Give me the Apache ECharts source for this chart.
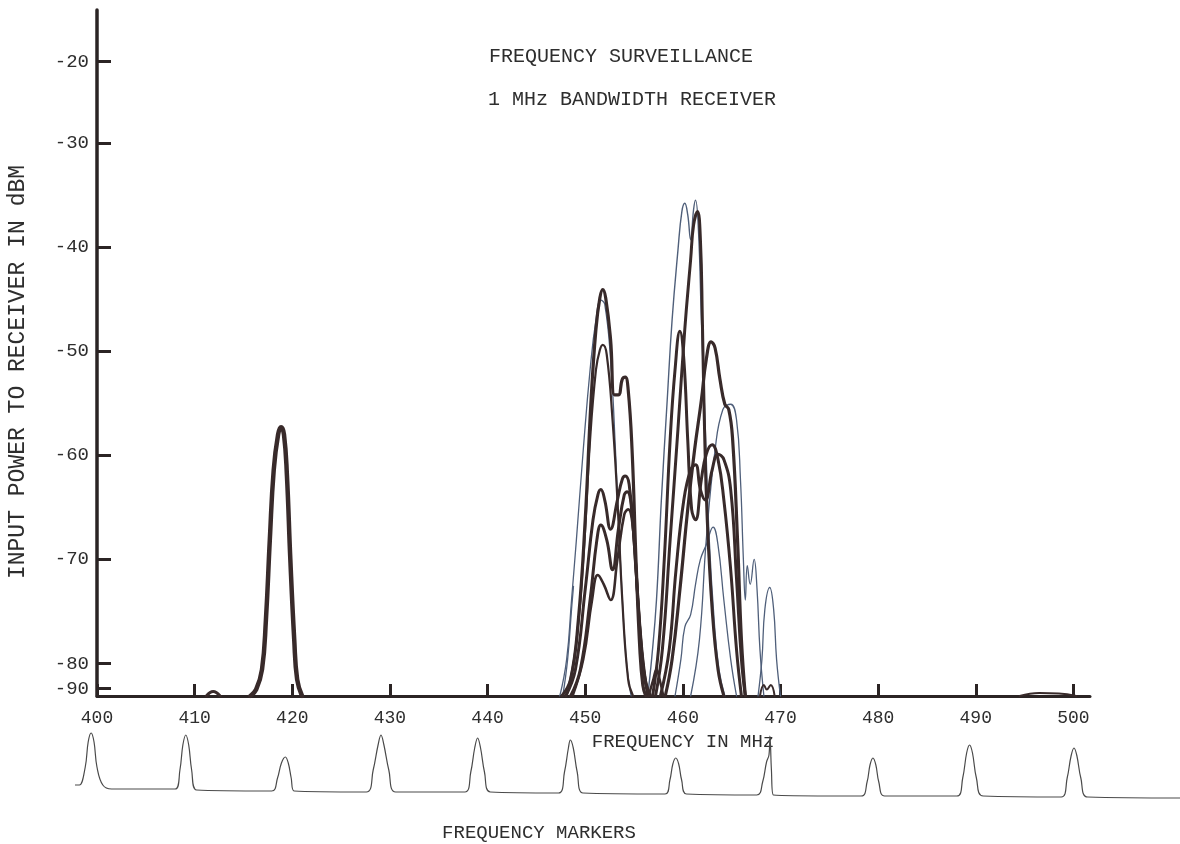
<!DOCTYPE html>
<html>
<head>
<meta charset="utf-8">
<script src="https://cdn.jsdelivr.net/npm/echarts@6/dist/echarts.min.js"></script>
<style>html,body{margin:0;padding:0;background:#fff}#c{width:1180px;height:844px}</style>
</head>
<body>
<div id="c"></div>
<script>
// ---- data (frequency MHz, power dBm) ----
const xTickValues = [400, 410, 420, 430, 440, 450, 460, 470, 480, 490, 500];
const yTickValues = [-20, -30, -40, -50, -60, -70, -80, -90];
const FLOOR = -93;

const peak420 = [[415.7,-93],[416.3,-90.4],[416.9,-82.4],[417.3,-75.8],[417.7,-68.1],[418.1,-61.4],[418.55,-58.0],[418.85,-57.3],[419.15,-58.0],[419.45,-61.9],[419.8,-70.0],[420.2,-77.7],[420.5,-86.4],[421.0,-93]];
const bump412 = [[411.2,-93],[411.9,-91.2],[412.6,-93]];
const bump497 = [[494.5,-93],[496.5,-91.8],[498.5,-92.0],[500.3,-93]];

const trA = [[447.6,-93],[448.5,-86.4],[449.3,-75.8],[450.0,-66.2],[450.6,-54.7],[451.1,-47.9],[451.5,-44.9],[451.8,-44.1],[452.1,-44.9],[452.6,-48.9],[453.0,-54.2],[453.4,-54.2],[453.8,-52.7],[454.1,-52.5],[454.4,-53.7],[454.8,-59.5],[455.2,-70.0],[455.6,-78.7],[455.9,-88.6],[456.2,-93]];
const trB = [[448.1,-93],[449.0,-78.7],[449.8,-70.0],[450.5,-58.5],[451.1,-51.8],[451.5,-49.9],[451.8,-49.4],[452.2,-50.3],[452.8,-56.6],[453.3,-64.3],[453.8,-73.9],[454.4,-86.4],[454.9,-93]];
const trC = [[447.4,-93],[448.1,-79.6],[448.6,-73.9],[449.1,-68.1],[449.8,-59.5],[450.5,-51.8],[451.1,-47.0],[451.6,-45.1],[452.0,-45.5],[452.6,-50.8],[453.1,-59.5],[453.6,-70.0],[454.2,-79.6],[454.7,-93]];
const trC2 = [[447.7,-93],[448.2,-79.6],[448.6,-74.8],[448.8,-72.6]];
const trD = [[448.0,-93],[449.0,-82.4],[450.0,-72.9],[450.8,-66.2],[451.3,-63.8],[451.6,-63.3],[452.0,-64.3],[452.6,-67.1],[453.3,-64.3],[453.8,-62.3],[454.1,-62.0],[454.5,-62.8],[455.0,-68.1],[455.6,-76.7],[456.1,-86.4],[456.7,-93]];
const trE = [[448.5,-93],[449.5,-82.4],[450.5,-73.9],[451.2,-68.1],[451.6,-66.7],[452.2,-68.1],[452.8,-71.0],[453.4,-67.1],[454.0,-63.8],[454.3,-63.5],[454.7,-64.7],[455.2,-71.0],[455.8,-78.7],[456.4,-93]];
const trF = [[448.7,-93],[449.8,-79.6],[450.7,-73.9],[451.3,-71.5],[451.9,-72.4],[452.6,-73.9],[453.3,-70.0],[454.0,-65.7],[454.4,-65.2],[454.9,-67.1],[455.4,-73.9],[456.0,-82.4],[456.6,-93]];

const trG = [[456.4,-93],[456.8,-79.6],[457.3,-73.9],[457.8,-64.3],[458.4,-54.7],[458.9,-47.0],[459.5,-40.3],[459.9,-36.6],[460.2,-35.8],[460.5,-36.9],[460.8,-39.3],[461.1,-36.4],[461.3,-35.5],[461.6,-38.4],[461.9,-47.0],[462.3,-57.5],[462.7,-68.1],[463.2,-75.8],[463.7,-82.4],[464.3,-93]];
const trH = [[457.2,-93],[457.9,-78.7],[458.7,-68.1],[459.5,-57.5],[460.2,-47.9],[460.8,-41.2],[461.1,-37.9],[461.5,-36.6],[461.8,-39.3],[462.0,-47.0],[462.2,-56.6],[462.5,-66.2],[463.0,-74.8],[463.6,-82.4],[464.2,-93]];
const trI = [[458.2,-93],[458.9,-79.6],[459.7,-72.9],[460.5,-65.2],[461.2,-59.5],[461.9,-54.7],[462.4,-50.8],[462.9,-49.1],[463.3,-49.7],[463.8,-52.7],[464.3,-55.1],[464.7,-55.6],[465.1,-58.5],[465.6,-68.1],[466.0,-77.7],[466.4,-93]];
const trJ = [[456.9,-93],[457.5,-78.7],[458.1,-70.0],[458.7,-58.5],[459.2,-51.8],[459.7,-48.1],[460.1,-50.8],[460.5,-58.5],[460.9,-65.2],[461.3,-66.2],[461.9,-62.3],[462.4,-59.9],[463.0,-59.0],[463.6,-60.4],[464.2,-64.3],[464.9,-71.0],[465.5,-78.7],[466.0,-93]];
const trK = [[457.7,-93],[458.6,-78.7],[459.3,-71.0],[460.1,-64.3],[460.8,-61.4],[461.3,-60.9],[461.8,-63.3],[462.3,-64.3],[463.0,-61.4],[463.6,-59.9],[464.2,-60.4],[464.9,-63.3],[465.5,-71.9],[466.0,-79.6],[466.4,-93]];
const trL = [[459.2,-93],[459.8,-79.6],[460.2,-76.5],[460.8,-75.3],[461.3,-72.4],[461.8,-70.0],[462.4,-68.6],[463.1,-66.9],[463.6,-68.6],[464.2,-73.9],[464.9,-79.6],[465.5,-93]];
const trM = [[460.8,-93],[461.7,-77.7],[462.4,-68.1],[463.3,-59.5],[464.1,-55.6],[464.9,-55.1],[465.5,-56.6],[465.9,-62.3],[466.2,-70.0],[466.4,-73.9],[466.6,-70.6],[466.9,-72.4],[467.3,-70.0],[467.6,-72.9],[467.9,-78.7],[468.3,-93]];
const trN = [[467.7,-93],[468.1,-79.6],[468.4,-74.8],[468.9,-72.7],[469.3,-74.8],[469.6,-79.6],[470.0,-93]];
const trO = [[467.9,-93],[468.3,-88.6],[468.6,-90.4],[469.0,-88.6],[469.4,-93]];
const trP = [[456.5,-93],[457.0,-86.0],[457.3,-82.4],[457.6,-86.0],[458.0,-93]];

// frequency marker strip (MHz, relative level)
const markerTrace = [
[397.75,15],[398.2,15],[398.8,33],[399.1,58],[399.4,67],[399.7,58],[400.0,33],[400.6,15],[401.5,11],
[408.0,11],[408.5,30],[408.8,55],[409.1,65],[409.4,55],[409.7,30],[410.2,10],
[417.9,9],[418.5,22],[418.9,37],[419.3,43],[419.6,37],[419.9,22],[420.2,9],
[427.6,8],[428.3,30],[428.8,55],[429.1,65],[429.4,55],[429.9,30],[430.6,8],
[437.7,8],[438.3,28],[438.7,52],[439.0,62],[439.3,52],[439.7,28],[440.3,8],
[447.3,7],[447.9,28],[448.3,52],[448.5,60],[448.8,52],[449.2,28],[449.8,7],
[458.2,6],[458.7,20],[459.0,36],[459.3,42],[459.6,36],[459.9,20],[460.4,6],
[467.6,5],[468.2,18],[468.6,38],[468.85,45],[468.95,64],[469.1,30],[469.3,5],
[478.3,4],[478.9,18],[479.2,35],[479.5,42],[479.8,35],[480.1,18],[480.7,4],
[488.1,4],[488.7,22],[489.1,47],[489.4,55],[489.7,47],[490.1,22],[490.8,4],
[498.8,3],[499.4,22],[499.8,44],[500.1,52],[500.4,44],[500.8,22],[501.5,3],
[510.96,2]];

// ---- hand-drawn axis: compressed segments above -30 and below -80 dBm ----
const LO = -80, KLO = 0.24, HI = -30, KHI = 0.78;
const tr = v => v < LO ? LO + (v - LO) * KLO : (v > HI ? HI + (v - HI) * KHI : v);
const untr = d => d < LO ? LO + (d - LO) / KLO : (d > HI ? HI + (d - HI) / KHI : d);
const conv = arr => arr.map(p => [p[0], tr(p[1])]);

const DARK = '#382a2a', BLUE = '#4f5f7a', INK = '#2b2424', TXT = '#2e2e2e';
const FONT = '"Liberation Mono", "DejaVu Sans Mono", monospace';

const traces = [
  {d: trC, c: BLUE, w: 1.3}, {d: trC2, c: BLUE, w: 1.3},
  {d: trG, c: BLUE, w: 1.4}, {d: trL, c: BLUE, w: 1.3}, {d: trM, c: BLUE, w: 1.3}, {d: trN, c: BLUE, w: 1.3},
  {d: trB, c: DARK, w: 2.2}, {d: trF, c: DARK, w: 2.6}, {d: trE, c: DARK, w: 3}, {d: trD, c: DARK, w: 3},
  {d: trA, c: DARK, w: 3.2},
  {d: trK, c: DARK, w: 3}, {d: trJ, c: DARK, w: 3}, {d: trI, c: DARK, w: 3.2}, {d: trH, c: DARK, w: 3},
  {d: trO, c: DARK, w: 2}, {d: trP, c: DARK, w: 2.5},
  {d: peak420, c: DARK, w: 4.5}, {d: bump412, c: DARK, w: 3}, {d: bump497, c: DARK, w: 2}
];

const series = traces.map(t => ({
  type: 'line', xAxisIndex: 0, yAxisIndex: 0, data: conv(t.d),
  showSymbol: false, smooth: 0.45, clip: true,
  lineStyle: {color: t.c, width: t.w, cap: 'round', join: 'round'}, silent: true, z: 3
}));
series.push({
  type: 'line', xAxisIndex: 1, yAxisIndex: 1, data: markerTrace,
  showSymbol: false, smooth: 0.4,
  lineStyle: {color: '#4a4a4a', width: 1.2}, silent: true
});

const chart = echarts.init(document.getElementById('c'), null, {renderer: 'canvas'});
chart.setOption({
  animation: false,
  backgroundColor: '#ffffff',
  grid: [
    {left: 97, right: 90, top: 10, bottom: 148},
    {left: 75, right: 0, top: 725, height: 75}
  ],
  xAxis: [
    {type: 'value', gridIndex: 0, min: 400, max: 501.7,
     axisLine: {show: true, onZero: false, lineStyle: {color: INK, width: 3}},
     axisTick: {show: true, inside: true, length: 12, customValues: xTickValues, lineStyle: {color: INK, width: 3}},
     axisLabel: {customValues: xTickValues, margin: 13, fontFamily: FONT, fontSize: 18, color: TXT},
     splitLine: {show: false}},
    {type: 'value', gridIndex: 1, min: 397.75, max: 510.96, show: false}
  ],
  yAxis: [
    {type: 'value', gridIndex: 0, min: tr(FLOOR), max: -17.24,
     axisLine: {show: true, onZero: false, lineStyle: {color: INK, width: 3.5}},
     axisTick: {show: true, inside: true, length: 14, customValues: yTickValues.map(tr), lineStyle: {color: INK, width: 3}},
     axisLabel: {customValues: yTickValues.map(tr), margin: 8, fontFamily: FONT, fontSize: 19, color: TXT,
       formatter: v => String(Math.round(untr(v)))},
     splitLine: {show: false}},
    {type: 'value', gridIndex: 1, min: 0, max: 75, show: false}
  ],
  graphic: [
    {type: 'text', x: 621, y: 57, style: {text: 'FREQUENCY SURVEILLANCE', font: '20px ' + FONT, fill: TXT, align: 'center', verticalAlign: 'middle'}},
    {type: 'text', x: 632, y: 100, style: {text: '1 MHz BANDWIDTH RECEIVER', font: '20px ' + FONT, fill: TXT, align: 'center', verticalAlign: 'middle'}},
    {type: 'text', x: 18, y: 372, rotation: Math.PI / 2, style: {text: 'INPUT POWER TO RECEIVER IN dBM', font: '23px ' + FONT, fill: TXT, align: 'center', verticalAlign: 'middle'}},
    {type: 'text', x: 683, y: 742, style: {text: 'FREQUENCY IN MHz', font: '19px ' + FONT, fill: TXT, align: 'center', verticalAlign: 'middle'}},
    {type: 'text', x: 539, y: 833, style: {text: 'FREQUENCY MARKERS', font: '19px ' + FONT, fill: TXT, align: 'center', verticalAlign: 'middle'}}
  ],
  series: series
});
</script>
</body>
</html>
